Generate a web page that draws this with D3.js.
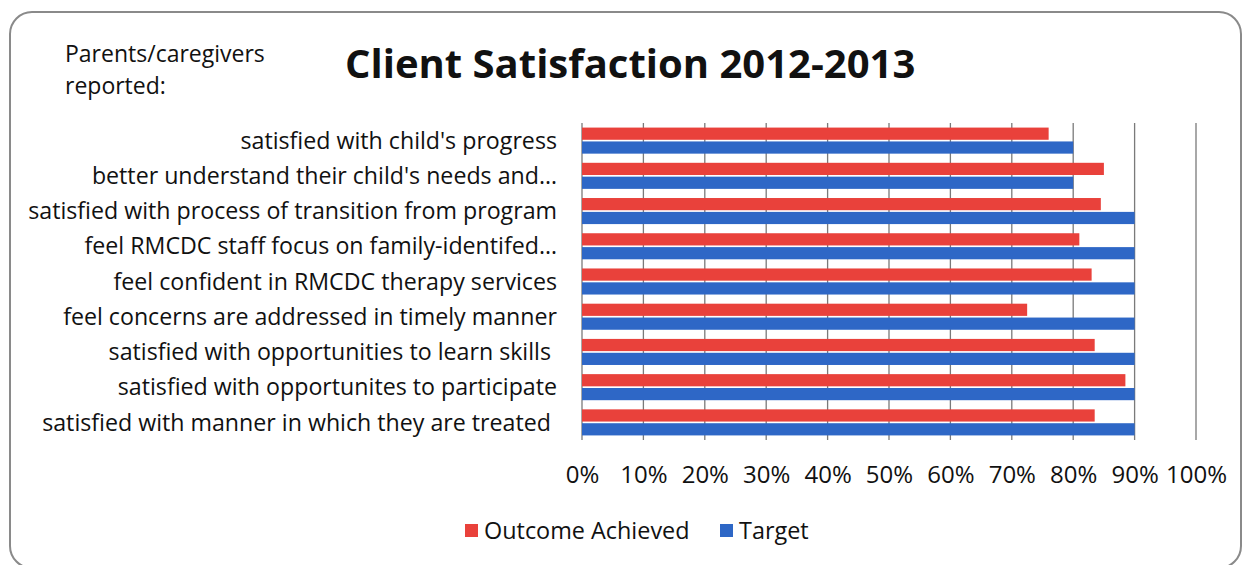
<!DOCTYPE html>
<html>
<head>
<meta charset="utf-8">
<script src="https://cdn.jsdelivr.net/npm/d3@7"></script>
<style>
  html, body { margin: 0; padding: 0; background: #fff; }
  svg text { font-family: "Open Sans", Lato, sans-serif; fill: #111; }
</style>
</head>
<body>
<svg id="chart" width="1244" height="565"></svg>
<script>
// Survey items, top to bottom
const categories = [
  "satisfied with child's progress",
  "better understand their child's needs and…",
  "satisfied with process of transition from program",
  "feel RMCDC staff focus on family-identifed…",
  "feel confident in RMCDC therapy services",
  "feel concerns are addressed in timely manner",
  "satisfied with opportunities to learn skills ",
  "satisfied with opportunites to participate",
  "satisfied with manner in which they are treated "
];
// Percent of parents/caregivers reporting each item
const outcomeAchieved = [76, 85, 84.5, 81, 83, 72.5, 83.5, 88.5, 83.5];
// Target percent for each item
const target = [80, 80, 90, 90, 90, 90, 90, 90, 90];
// Axis ticks (percent)
const tickValues = [0, 10, 20, 30, 40, 50, 60, 70, 80, 90, 100];
const seriesNames = ["Outcome Achieved", "Target"];
const seriesColors = ["#E9413B", "#2E67C6"];

const FONT = "'Open Sans', Lato, sans-serif";
const svg = d3.select("#chart");

// Rounded outer frame
svg.append("rect")
  .attr("x", 10).attr("y", 12)
  .attr("width", 1231).attr("height", 556)
  .attr("rx", 22).attr("ry", 22)
  .attr("fill", "none")
  .attr("stroke", "#8a8a8a")
  .attr("stroke-width", 2);

// Headings
svg.append("text")
  .attr("x", 65).attr("y", 62)
  .style("font-size", "23px")
  .text("Parents/caregivers");
svg.append("text")
  .attr("x", 65).attr("y", 94)
  .style("font-size", "23px")
  .text("reported:");
svg.append("text")
  .attr("x", 345).attr("y", 78)
  .style("font-size", "40px")
  .style("font-weight", "bold")
  .text("Client Satisfaction 2012-2013");

const plot = { left: 582, right: 1196, top: 123, bottom: 440 };

const x = d3.scaleLinear().domain([0, 100]).range([plot.left, plot.right]);
const y = d3.scaleBand().domain(categories).range([plot.top, plot.bottom]).paddingInner(0.26).paddingOuter(0.13);
const sub = d3.scaleBand().domain(seriesNames).range([0, y.bandwidth()]).paddingInner(0.12);

// Vertical gridlines
svg.append("g")
  .selectAll("line")
  .data(tickValues)
  .join("line")
  .attr("x1", d => x(d)).attr("x2", d => x(d))
  .attr("y1", plot.top).attr("y2", plot.bottom)
  .attr("stroke", d => d === 100 ? "#a8a8a8" : "#7a7a7a")
  .attr("stroke-width", d => d === 100 ? 2 : 1.3);

// Bars
const rows = categories.map((c, i) => ({ c, vals: [outcomeAchieved[i], target[i]] }));
const groups = svg.append("g")
  .selectAll("g")
  .data(rows)
  .join("g")
  .attr("transform", d => `translate(0,${y(d.c)})`);

groups.selectAll("rect")
  .data(d => d.vals.map((v, k) => ({ v, k })))
  .join("rect")
  .attr("x", x(0))
  .attr("y", d => sub(seriesNames[d.k]))
  .attr("width", d => x(d.v) - x(0))
  .attr("height", sub.bandwidth())
  .attr("fill", d => seriesColors[d.k]);

// Category labels
const yAxis = d3.axisLeft(y).tickSize(0).tickPadding(25);
const yg = svg.append("g").attr("transform", `translate(${plot.left},0)`).call(yAxis);
yg.select(".domain").remove();
yg.selectAll("text")
  .style("font-family", FONT)
  .style("font-size", "23.2px")
  .style("white-space", "pre")
  .attr("fill", "#111")
  .attr("dy", "0.35em");

// Percent axis
const xAxis = d3.axisBottom(x).tickValues(tickValues).tickSize(0).tickPadding(26).tickFormat(d => d + "%");
const xg = svg.append("g").attr("transform", `translate(0,${plot.bottom})`).call(xAxis);
xg.select(".domain").remove();
xg.selectAll("text")
  .style("font-family", FONT)
  .style("font-size", "24px")
  .attr("fill", "#111");

// Legend
const legend = svg.append("g").attr("transform", "translate(465,531)");
const offsets = [0, 255];
seriesNames.forEach((name, k) => {
  const g = legend.append("g").attr("transform", `translate(${offsets[k]},0)`);
  g.append("rect").attr("x", 0).attr("y", -7).attr("width", 13).attr("height", 13).attr("fill", seriesColors[k]);
  g.append("text").attr("x", 19).attr("y", 0).attr("dy", "0.35em").style("font-size", "23.4px").text(name);
});
</script>
</body>
</html>
